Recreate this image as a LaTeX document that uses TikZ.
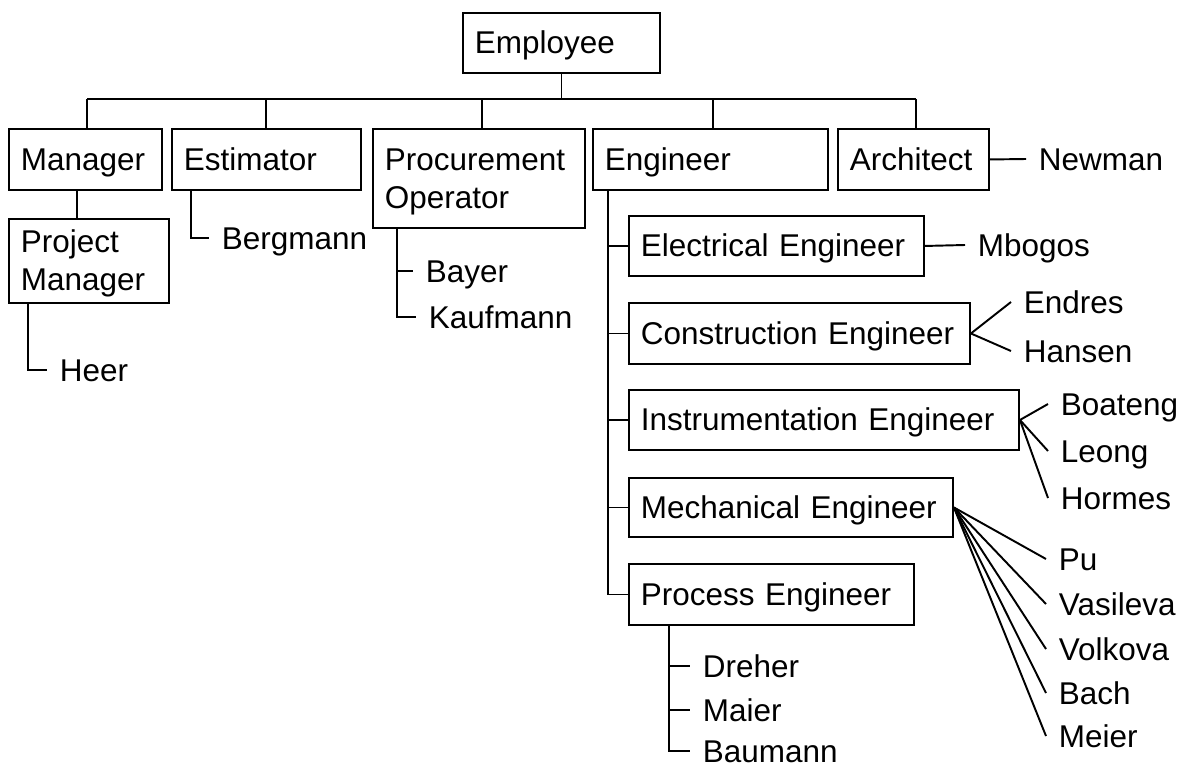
\documentclass[tikz,border=0pt]{standalone}
\usepackage{fontspec}
\setmainfont{Liberation Sans}
% one drawing unit = one pixel of a 1188 x 767 canvas
\def\pxl{*0.75pt}
\tikzset{
  orgfont/.style={font=\fontsize{23.6pt}{28.5pt}\selectfont},
  % role box: width, height (in pixels), one line of text
  rolebox/.style 2 args={draw, rectangle, anchor=north west, orgfont,
    inner xsep=12\pxl, inner ysep=0pt, align=left,
    text width={(#1-24)\pxl}, minimum height={#2\pxl},
    text height=22\pxl, text depth=0pt},
  % role box with two lines of text
  rolebox2/.style 2 args={draw, rectangle, anchor=north west, orgfont,
    inner xsep=12\pxl, inner ysep=0pt, align=left,
    text width={(#1-24)\pxl}, minimum height={#2\pxl},
    text height=22\pxl, text depth=38\pxl},
  person/.style={anchor=west, orgfont, inner xsep=12\pxl, inner ysep=0pt,
    text height=22\pxl, text depth=0pt},
  link/.style={line width=1.45pt}
}
\begin{document}
\begin{tikzpicture}[x=0.75pt, y=-0.75pt, line width=1.45pt, line join=miter]
\useasboundingbox (0,0) rectangle (1188,767);

% role boxes
\node[rolebox={197}{60}]  (emp)   at (462,12)  {Employee};
\node[rolebox={153}{61}]  (man)   at (8,128)   {Manager};
\node[rolebox={189}{61}]  (est)   at (171,128) {Estimator};
\node[rolebox2={212}{99}] (procop) at (372,128) {Procurement\\Operator};
\node[rolebox={235}{61}]  (eng)   at (592,128) {Engineer};
\node[rolebox={151}{61}]  (arch)  at (837,128) {Architect};
\node[rolebox2={160}{84}] (pm)    at (8,218)   {Project\\Manager};
\node[rolebox={295}{60}]  (elec)  at (628,215) {Electrical Engineer};
\node[rolebox={341}{61}]  (cons)  at (628,302) {Construction Engineer};
\node[rolebox={390}{60}]  (inst)  at (628,389) {Instrumentation Engineer};
\node[rolebox={324}{59}]  (mech)  at (628,477) {Mechanical Engineer};
\node[rolebox={285}{61}]  (proce) at (628,563) {Process Engineer};

% people
\node[person] (heer)     at (47,370)   {Heer};
\node[person] (bergmann) at (209,238)  {Bergmann};
\node[person] (bayer)    at (413,271)  {Bayer};
\node[person] (kaufmann) at (416,317)  {Kaufmann};
\node[person] (newman)   at (1026,159) {Newman};
\node[person] (mbogos)   at (965,245)  {Mbogos};
\node[person] (endres)   at (1011,302) {Endres};
\node[person] (hansen)   at (1011,351) {Hansen};
\node[person] (boateng)  at (1048,404) {Boateng};
\node[person] (leong)    at (1048,451) {Leong};
\node[person] (hormes)   at (1048,498) {Hormes};
\node[person] (pu)       at (1046,559) {Pu};
\node[person] (vasileva) at (1046,604) {Vasileva};
\node[person] (volkova)  at (1046,649) {Volkova};
\node[person] (bach)     at (1046,693) {Bach};
\node[person] (meier)    at (1046,736) {Meier};
\node[person] (dreher)   at (690,666)  {Dreher};
\node[person] (maier)    at (690,710)  {Maier};
\node[person] (baumann)  at (690,751)  {Baumann};

% top level bus
\coordinate (busL) at (87,99);
\coordinate (busR) at (916,99);
\coordinate (d-est) at (266,99);
\coordinate (d-proc) at (482,99);
\coordinate (d-eng) at (713,99);
\draw[link] (emp.south) -- (emp.south |- busL);
\draw[link] (busL) -- (busR);
\draw[link] (busL) -- (busL |- man.north);
\draw[link] (d-est) -- (d-est |- est.north);
\draw[link] (d-proc) -- (d-proc |- procop.north);
\draw[link] (d-eng) -- (d-eng |- eng.north);
\draw[link] (busR) -- (busR |- arch.north);

% manager branch
\coordinate (x-man) at (77,0);
\coordinate (x-pm) at (28,0);
\draw[link] (man.south -| x-man) -- (pm.north -| x-man);
\draw[link] (pm.south -| x-pm) |- (heer.west);

% estimator branch
\coordinate (x-est) at (191,0);
\draw[link] (est.south -| x-est) |- (bergmann.west);

% procurement branch
\coordinate (x-proc) at (397,0);
\draw[link] (procop.south -| x-proc) |- (kaufmann.west);
\draw[link] (bayer.west -| x-proc) -- (bayer.west);

% architect
\draw[link] (arch.east) -- (newman.west);

% engineer branch
\coordinate (x-eng) at (608,0);
\draw[link] (eng.south -| x-eng) |- (proce.west);
\draw[link] (elec.west -| x-eng) -- (elec.west);
\draw[link] (cons.west -| x-eng) -- (cons.west);
\draw[link] (inst.west -| x-eng) -- (inst.west);
\draw[link] (mech.west -| x-eng) -- (mech.west);

\draw[link] (elec.east) -- (mbogos.west);
\draw[link] (cons.east) -- (endres.west);
\draw[link] (cons.east) -- (hansen.west);
\draw[link] (inst.east) -- (boateng.west);
\draw[link] (inst.east) -- (leong.west);
\draw[link] (inst.east) -- (hormes.west);
\draw[link] (mech.east) -- (pu.west);
\draw[link] (mech.east) -- (vasileva.west);
\draw[link] (mech.east) -- (volkova.west);
\draw[link] (mech.east) -- (bach.west);
\draw[link] (mech.east) -- (meier.west);

% process engineer branch
\coordinate (x-pe) at (669,0);
\draw[link] (proce.south -| x-pe) |- (baumann.west);
\draw[link] (dreher.west -| x-pe) -- (dreher.west);
\draw[link] (maier.west -| x-pe) -- (maier.west);
\end{tikzpicture}
\end{document}
